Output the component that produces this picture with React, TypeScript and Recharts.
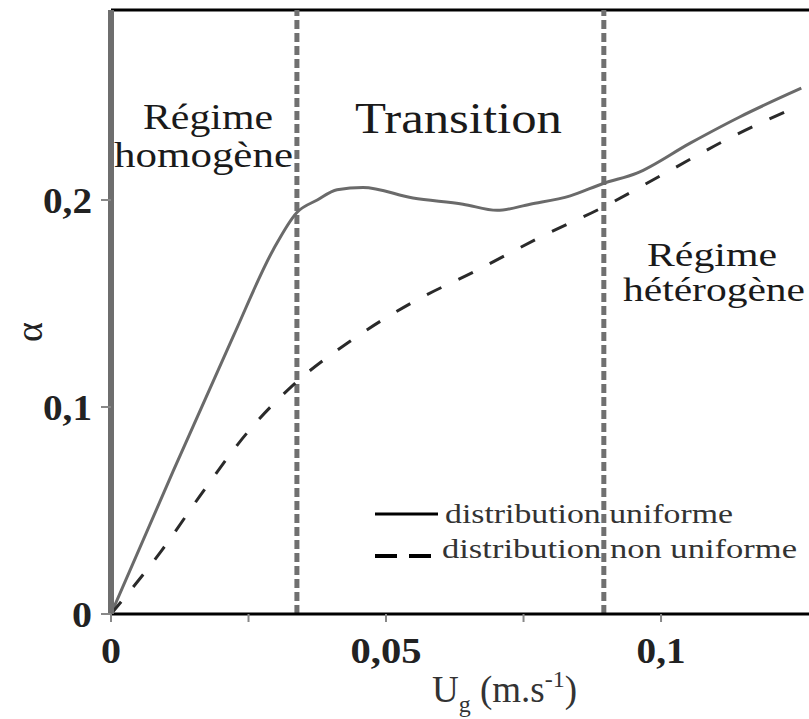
import React from 'react';
import { LineChart, Line, XAxis, YAxis, ReferenceLine } from 'recharts';

// Ug (m/s) and gas hold-up for both sparger distributions
const ugUniform = [0, 0.0113, 0.0222, 0.0295, 0.0338, 0.0375, 0.0411, 0.0458, 0.0549, 0.064, 0.0702, 0.0762, 0.0835, 0.0895, 0.0956, 0.1053, 0.1142, 0.1255];
const alphaUniform = [0, 0.069, 0.134, 0.176, 0.194, 0.2, 0.205, 0.206, 0.201, 0.198, 0.195, 0.198, 0.202, 0.208, 0.213, 0.2275, 0.24, 0.254];

const ugNonUniform = [0, 0.0093, 0.0167, 0.0247, 0.0331, 0.0438, 0.0549, 0.0665, 0.078, 0.0895, 0.1011, 0.1125, 0.1255];
const alphaNonUniform = [0, 0.031, 0.059, 0.0874, 0.1106, 0.1324, 0.1507, 0.166, 0.182, 0.1966, 0.2135, 0.23, 0.246];

const xTicks = [0, 0.025, 0.05, 0.075, 0.1];
const xTickLabels: Record<string, string> = { '0': '0', '0.05': '0,05', '0.1': '0,1' };
const yTicks = [0, 0.1, 0.2];
const yTickLabels = ['0', '0,1', '0,2'];
const regimeBounds = [0.0338, 0.0896];

const uniformData = ugUniform.map((x, i) => ({ x, y: alphaUniform[i] }));
const nonUniformData = ugNonUniform.map((x, i) => ({ x, y: alphaNonUniform[i] }));

const SERIF = '"Liberation Serif", Tinos, "Times New Roman", serif';
const W = 809;
const H = 719;

// rough widths of the bold tick labels in the figure
const tickWidth = (s: string) => (s.length === 1 ? 20 : s.length === 3 ? 49 : 71);

const XTick = ({ x, y, payload }: any) => {
    const label = xTickLabels[String(payload.value)];
    if (!label) return null;
    return (
        <text x={x} y={y + 39} textAnchor="middle" style={{ fontFamily: SERIF }} fontWeight="bold" fontSize={35} fill="#222"
            textLength={tickWidth(label)} lengthAdjust="spacingAndGlyphs">
            {label}
        </text>
    );
};

const YTick = ({ x, y, index }: any) => (
    <text x={x - 7} y={y + 13} textAnchor="end" style={{ fontFamily: SERIF }} fontWeight="bold" fontSize={35} fill="#222"
        textLength={tickWidth(yTickLabels[index])} lengthAdjust="spacingAndGlyphs">
        {yTickLabels[index]}
    </text>
);

export default function App() {
    return (
        <div style={{ position: 'absolute', left: 0, top: 0, width: W, height: H, background: '#fff', fontFamily: SERIF }}>
            <LineChart
                width={W}
                height={H}
                margin={{ top: 10, right: 0, left: 51, bottom: 45 }}
            >
                <XAxis
                    type="number"
                    dataKey="x"
                    domain={[0, 0.1269]}
                    ticks={xTicks}
                    allowDataOverflow
                    height={60}
                    axisLine={{ stroke: '#000', strokeWidth: 3 }}
                    tickLine={{ stroke: '#888', strokeWidth: 2 }}
                    tickSize={8}
                    tick={<XTick />}
                    interval={0}
                />
                <YAxis
                    type="number"
                    dataKey="y"
                    domain={[0, 0.2918]}
                    ticks={yTicks}
                    allowDataOverflow
                    width={60}
                    axisLine={{ stroke: '#6e6e6e', strokeWidth: 6 }}
                    tickLine={{ stroke: '#888', strokeWidth: 2 }}
                    tickSize={10}
                    tick={<YTick />}
                    interval={0}
                />
                <ReferenceLine y={0.2918} stroke="#000" strokeWidth={3} />
                {regimeBounds.map((b) => (
                    <ReferenceLine key={b} x={b} stroke="#707070" strokeWidth={5} strokeDasharray="9 4" />
                ))}
                <Line
                    data={uniformData}
                    dataKey="y"
                    type="monotone"
                    stroke="#6a6a6a"
                    strokeWidth={3}
                    dot={false}
                    isAnimationActive={false}
                />
                <Line
                    data={nonUniformData}
                    dataKey="y"
                    type="monotone"
                    stroke="#2a2a2a"
                    strokeWidth={3}
                    strokeDasharray="16 19"
                    dot={false}
                    isAnimationActive={false}
                />
            </LineChart>
            <svg
                width={W}
                height={H}
                style={{ position: 'absolute', left: 0, top: 0, pointerEvents: 'none', fontFamily: SERIF }}
            >
                <text x={143} y={129} fontSize={36} fill="#1a1a1a" textLength={130} lengthAdjust="spacingAndGlyphs">Régime</text>
                <text x={114} y={167} fontSize={36} fill="#1a1a1a" textLength={179} lengthAdjust="spacingAndGlyphs">homogène</text>
                <text x={355} y={133} fontSize={44} fill="#1a1a1a" textLength={207} lengthAdjust="spacingAndGlyphs">Transition</text>
                <text x={647} y={266} fontSize={33} fill="#1a1a1a" textLength={130} lengthAdjust="spacingAndGlyphs">Régime</text>
                <text x={623} y={301} fontSize={33} fill="#1a1a1a" textLength={182} lengthAdjust="spacingAndGlyphs">hétérogène</text>

                {/* legend */}
                <line x1={375} x2={438} y1={514} y2={514} stroke="#000" strokeWidth={3} />
                <line x1={375} x2={431} y1={556} y2={556} stroke="#000" strokeWidth={4} strokeDasharray="22 12" />
                <text x={445} y={523} fontSize={27} fill="#333" textLength={288} lengthAdjust="spacingAndGlyphs">distribution uniforme</text>
                <text x={442} y={558} fontSize={27} fill="#333" textLength={355} lengthAdjust="spacingAndGlyphs">distribution non uniforme</text>

                {/* axis titles */}
                <text x={29} y={332} fontSize={38} fill="#222" textAnchor="middle" dominantBaseline="central" transform="rotate(-90 29 332)">α</text>
                <text x={432} y={702} fontSize={37} fill="#333">
                    U<tspan fontSize={24} dy={10}>g</tspan><tspan dy={-10}> (m.s</tspan><tspan fontSize={24} dy={-15}>-1</tspan><tspan dy={15}>)</tspan>
                </text>
            </svg>
        </div>
    );
}
